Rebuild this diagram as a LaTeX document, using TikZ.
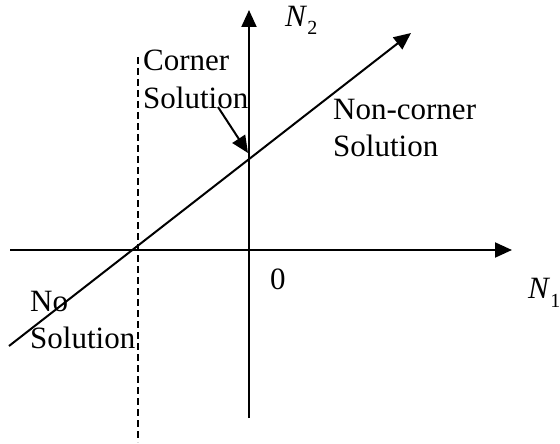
\documentclass[tikz,border=0pt]{standalone}
\usepackage{fontspec}
\setmainfont{Liberation Serif}
\usetikzlibrary{arrows.meta}
\begin{document}
\begin{tikzpicture}[x=1pt,y=-1pt,
  axis/.style={line width=2pt,-{Triangle[length=17pt,width=15pt]}},
  guide/.style={line width=1.8pt,dash pattern=on 7pt off 4pt},
  lbl/.style={inner sep=0pt,anchor=base west,align=left,font=\fontsize{31}{37}\selectfont}]
\useasboundingbox (0,0) rectangle (560,444);
% coordinates
\coordinate (ybot) at (249,418);
\coordinate (ytop) at (249,10);
\coordinate (xl) at (10,250);
\coordinate (xr) at (512,250);
\coordinate (dl) at (9,346);
\coordinate (dr) at (411,33);
\coordinate (gtop) at (138,57);
\coordinate (gbot) at (138,442);
\coordinate (cstart) at (218,107);
\coordinate (corner) at (248,153);
% axes and lines
\draw[axis] (ybot) -- (ytop);
\draw[axis] (xl) -- (xr);
\draw[axis] (dl) -- (dr);
\draw[guide] (gtop) -- (gbot);
% labels (base anchor = baseline of last line)
\node[lbl] (cs) at (143,108) {Corner\\Solution};
\node[lbl] (ncs) at (333,157) {Non-corner\\Solution};
\node[lbl] (ns) at (30,348) {No\\Solution};
\node[lbl] (zero) at (270,289) {0};
\node[lbl] (n1) at (528,298) {\textit{N}\raisebox{-9pt}{\fontsize{20}{20}\selectfont 1}};
\node[lbl] (n2) at (285,27) {\textit{N}\raisebox{-8pt}{\fontsize{20}{20}\selectfont 2}};
% connector
\draw[axis] (cstart) -- (corner);
\end{tikzpicture}
\end{document}
